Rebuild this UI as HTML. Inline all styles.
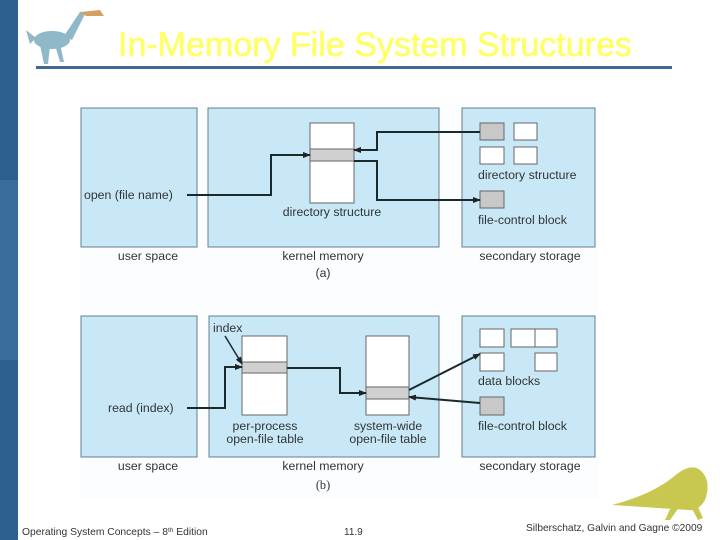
<!DOCTYPE html>
<html><head><style>
body{margin:0;width:720px;height:540px;background:#fff;position:relative;overflow:hidden;font-family:"Liberation Sans",sans-serif}
.bar{position:absolute;left:0;width:18px}
.t{position:absolute;white-space:nowrap}
</style></head><body>
<div class="bar" style="top:0;height:180px;background:#2d5f8e"></div>
<div class="bar" style="top:180px;height:180px;background:#3a6d9c"></div>
<div class="bar" style="top:360px;height:180px;background:#2d5f8e"></div>
<div class="t" style="left:118px;top:26px;font-size:34px;line-height:39px;color:#ffff66;-webkit-text-stroke:0.6px #ffff66;letter-spacing:0px">In-Memory File System Structures</div>
<div style="position:absolute;left:36px;top:66px;width:636px;height:3px;background:#3f6a8e"></div>
<svg width="720" height="540" style="position:absolute;left:0;top:0" font-family="Liberation Sans, sans-serif" font-size="12.3" fill="#333">
<defs><marker id="a" markerWidth="8" markerHeight="8" refX="7" refY="4" orient="auto" markerUnits="userSpaceOnUse"><path d="M0,1 L8,4 L0,7z" fill="#222"/></marker></defs>
<g fill="#8fb8c8"><ellipse cx="52" cy="40" rx="18" ry="9"/><path d="M64,36 L80,12 L86,12 L72,40z"/><path d="M40,45 L44,64 L48,64 L50,46z"/><path d="M55,45 L60,62 L64,62 L60,44z"/><path d="M36,38 L26,30 L30,44z"/></g>
<path d="M80,12 L100,10 L104,16 L86,16z" fill="#d8a060"/>
<rect x="80" y="103" width="518" height="395" fill="#fbfdfe"/>
<g fill="#c8e8f8" stroke="#6a7d8a" stroke-width="1">
<rect x="81" y="108" width="116" height="139"/><rect x="208" y="108" width="231" height="139"/><rect x="462" y="108" width="133" height="139"/>
<rect x="81" y="316" width="116" height="141"/><rect x="209" y="316" width="230" height="141"/><rect x="462" y="316" width="133" height="141"/>
</g>
<g stroke="#666" stroke-width="1">
<rect x="310" y="123" width="44" height="80" fill="#fff"/><rect x="310" y="149" width="44" height="12" fill="#d0d0d0"/>
<rect x="480" y="123" width="24" height="17" fill="#c8c8c8"/><rect x="514" y="123" width="23" height="17" fill="#fff"/>
<rect x="480" y="147" width="24" height="17" fill="#fff"/><rect x="514" y="147" width="23" height="17" fill="#fff"/>
<rect x="480" y="191" width="24" height="17" fill="#c8c8c8"/>
<rect x="242" y="336" width="45" height="79" fill="#fff"/><rect x="242" y="362" width="45" height="11" fill="#d0d0d0"/>
<rect x="366" y="336" width="43" height="79" fill="#fff"/><rect x="366" y="387" width="43" height="12" fill="#d0d0d0"/>
<rect x="480" y="329" width="24" height="18" fill="#fff"/><rect x="511" y="329" width="24" height="18" fill="#fff"/><rect x="535" y="329" width="22" height="18" fill="#fff"/>
<rect x="480" y="353" width="24" height="18" fill="#fff"/><rect x="535" y="353" width="22" height="18" fill="#fff"/>
<rect x="480" y="397" width="24" height="18" fill="#c8c8c8"/>
</g>
<g stroke="#1a2a2a" stroke-width="2" fill="none" marker-end="url(#a)">
<path d="M187,195 H271 V155 H310"/>
<path d="M480,132 H377 V150 H354"/>
<path d="M354,161 H377 V200 H480"/>
<path d="M187,408 H225 V367 H242"/>
<path d="M225,336 L242,364" stroke-width="1.5"/>
<path d="M287,368 H340 V393 H366"/>
<path d="M409,390 L480,354"/>
<path d="M480,403 L409,397"/>
</g>
<text x="84" y="199">open (file name)</text>
<text x="332" y="216" text-anchor="middle">directory structure</text>
<text x="478" y="179">directory structure</text>
<text x="478" y="224">file-control block</text>
<text x="148" y="260" text-anchor="middle">user space</text>
<text x="323" y="260" text-anchor="middle">kernel memory</text>
<text x="530" y="260" text-anchor="middle">secondary storage</text>
<text x="323" y="277" text-anchor="middle">(a)</text>
<text x="213" y="332">index</text>
<text x="108" y="412">read (index)</text>
<text x="265" y="430" text-anchor="middle">per-process</text>
<text x="265" y="443" text-anchor="middle">open-file table</text>
<text x="388" y="430" text-anchor="middle">system-wide</text>
<text x="388" y="443" text-anchor="middle">open-file table</text>
<text x="478" y="385">data blocks</text>
<text x="478" y="430">file-control block</text>
<text x="148" y="470" text-anchor="middle">user space</text>
<text x="323" y="470" text-anchor="middle">kernel memory</text>
<text x="530" y="470" text-anchor="middle">secondary storage</text>
<text x="323" y="489" text-anchor="middle" font-family="Liberation Serif, serif">(b)</text>
<g fill="#c8c850"><path d="M612,505 Q650,495 672,478 Q690,462 700,470 Q712,480 705,500 Q698,512 688,510 Q660,508 612,505z"/><path d="M672,505 L665,520 L670,520 L680,506z"/><path d="M690,505 L698,520 L703,518 L696,503z"/></g>
<text x="22" y="535" font-size="10.3">Operating System Concepts – 8<tspan font-size="6.5" dy="-3">th</tspan><tspan dy="3"> Edition</tspan></text>
<text x="344" y="535" font-size="10">11.9</text>
<text x="526" y="531" font-size="10.2">Silberschatz, Galvin and Gagne ©2009</text>
</svg>
</body></html>
